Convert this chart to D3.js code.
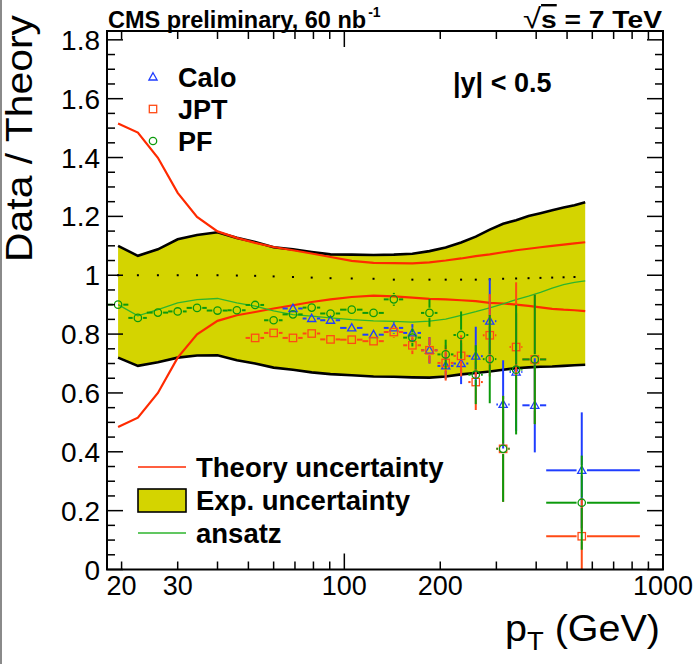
<!DOCTYPE html>
<html lang="en">
<head>
<meta charset="utf-8">
<title>Data / Theory vs pT</title>
<script src="https://d3js.org/d3.v7.min.js"></script>
<style>
  body { margin: 0; background: #fff; }
  text { font-family: "Liberation Sans", Arial, Helvetica, sans-serif; }
</style>
</head>
<body>
<script>
// ---- theory / uncertainty grid (bin centres, GeV) ----
const binCenters = [19.5, 22.5, 26, 30, 34.5, 40, 46, 52.5, 60, 69, 79, 90.5, 105.5, 123.5, 143, 163.5, 185, 208, 232.5, 258.5, 286, 315, 346, 378.5, 412.5, 449, 487.5, 527.5, 570];
const expUp = [1.100, 1.066, 1.088, 1.122, 1.137, 1.146, 1.127, 1.113, 1.095, 1.088, 1.079, 1.071, 1.070, 1.069, 1.070, 1.073, 1.082, 1.094, 1.111, 1.131, 1.155, 1.175, 1.187, 1.201, 1.211, 1.221, 1.230, 1.238, 1.248];
const expLo = [0.720, 0.692, 0.704, 0.720, 0.727, 0.728, 0.711, 0.700, 0.686, 0.679, 0.670, 0.664, 0.660, 0.656, 0.655, 0.653, 0.652, 0.656, 0.663, 0.668, 0.673, 0.679, 0.684, 0.687, 0.689, 0.690, 0.692, 0.694, 0.696];
const theoryUp = [1.516, 1.485, 1.399, 1.280, 1.198, 1.149, 1.127, 1.110, 1.096, 1.085, 1.074, 1.062, 1.049, 1.042, 1.041, 1.040, 1.044, 1.050, 1.057, 1.065, 1.071, 1.078, 1.085, 1.090, 1.095, 1.100, 1.104, 1.108, 1.112];
const theoryLo = [0.484, 0.516, 0.600, 0.720, 0.799, 0.845, 0.864, 0.875, 0.887, 0.898, 0.909, 0.918, 0.926, 0.931, 0.928, 0.924, 0.920, 0.918, 0.915, 0.912, 0.906, 0.904, 0.900, 0.896, 0.891, 0.886, 0.883, 0.881, 0.878];
const ansatz = [0.900, 0.862, 0.883, 0.906, 0.917, 0.921, 0.906, 0.895, 0.879, 0.866, 0.861, 0.855, 0.849, 0.845, 0.843, 0.841, 0.844, 0.851, 0.864, 0.876, 0.889, 0.903, 0.917, 0.929, 0.942, 0.956, 0.968, 0.976, 0.981];
const refDots = [1, 1, 1, 1, 1, 1, 0.999, 0.998, 0.996, 0.994, 0.992, 0.990, 0.989, 0.988, 0.985, 0.985, 0.985, 0.985, 0.985, 0.985, 0.986, 0.988, 0.989, 0.990, 0.991, 0.992, 0.993, 0.994];

// ---- measured bins ----
const ptLow  = [18, 21, 24, 28, 32, 37, 43, 49, 56, 64, 74, 84, 97, 114, 133, 153, 174, 196, 220, 245, 272, 300, 330, 362, 430];
const ptHigh = [21, 24, 28, 32, 37, 43, 49, 56, 64, 74, 84, 97, 114, 133, 153, 174, 196, 220, 245, 272, 300, 330, 362, 430, 846];
const ptMean = [19.5, 22.5, 26, 30, 34.5, 40, 46, 52.5, 60, 69, 79, 90.5, 105.5, 123.5, 143, 163.5, 185, 208, 232.5, 258.5, 286, 315, 346, 396, 556];

// PF: all bins; JPT from bin 7; Calo from bin 9
const pfVal  = [0.900, 0.855, 0.873, 0.877, 0.889, 0.880, 0.881, 0.899, 0.847, 0.867, 0.890, 0.870, 0.883, 0.872, 0.918, 0.788, 0.872, 0.731, 0.797, 0.662, 0.715, 0.410, 0.679, 0.714, 0.227];
const pfErr  = [0.008, 0.008, 0.008, 0.008, 0.014, 0.008, 0.008, 0.014, 0.010, 0.010, 0.012, 0.012, 0.012, 0.012, 0.022, 0.030, 0.047, 0.050, 0.080, 0.100, 0.150, 0.180, 0.220, 0.220, 0.160];
const jptVal = [0.787, 0.804, 0.787, 0.802, 0.782, 0.781, 0.776, 0.807, 0.762, 0.745, 0.702, 0.726, 0.637, 0.796, 0.410, 0.756, 0.714, 0.113];
const jptErr = [0.010, 0.010, 0.010, 0.010, 0.012, 0.012, 0.015, 0.020, 0.030, 0.044, 0.060, 0.070, 0.095, 0.140, 0.180, 0.220, 0.220, 0.130];
const caloVal = [0.887, 0.853, 0.847, 0.821, 0.798, 0.821, 0.804, 0.745, 0.692, 0.700, 0.725, 0.844, 0.561, 0.671, 0.558, 0.337];
const caloErr = [0.010, 0.010, 0.012, 0.012, 0.015, 0.020, 0.030, 0.045, 0.045, 0.070, 0.100, 0.145, 0.150, 0.200, 0.160, 0.197];

const yMajor = [0, 0.2, 0.4, 0.6, 0.8, 1, 1.2, 1.4, 1.6, 1.8];
const xMajor = [100, 1000];
const xMinor = [20, 30, 40, 50, 60, 70, 80, 90, 200, 300, 400, 500, 600, 700, 800, 900];
const xLabels = [20, 30, 100, 200, 1000];

const colCalo = "#1f3dff", colJpt = "#ff4a14", colPf = "#0c9a0c";
const colTheory = "#ff2a00", colAnsatz = "#2db52d", colBand = "#d4d400";

const width = 699, height = 664;
const L = 107, R = 663, T = 31, B = 569.5;

const svg = d3.select("body").append("svg")
  .attr("width", width).attr("height", height);

const x = d3.scaleLog().domain([18, 1000]).range([L, R]);
const y = d3.scaleLinear().domain([0, 1.83]).range([B, T]);

svg.append("rect").attr("x", 0).attr("y", 0).attr("width", 2).attr("height", height).attr("fill", "#8a8a8a");

svg.append("clipPath").attr("id", "frame")
  .append("rect").attr("x", L).attr("y", T).attr("width", R - L).attr("height", B - T);

const plot = svg.append("g").attr("clip-path", "url(#frame)");
const idx = d3.range(binCenters.length);

// exp. uncertainty band
plot.append("path")
  .attr("fill", colBand)
  .attr("d", d3.area().x(i => x(binCenters[i])).y0(i => y(expLo[i])).y1(i => y(expUp[i]))(idx));
[expUp, expLo].forEach(arr => {
  plot.append("path").attr("fill", "none").attr("stroke", "#000").attr("stroke-width", 2.6)
    .attr("d", d3.line().x(i => x(binCenters[i])).y(i => y(arr[i]))(idx));
});

// dotted reference
plot.append("g").selectAll("rect").data(refDots).join("rect")
  .attr("x", (d, i) => x(binCenters[i]) - 1).attr("y", d => y(d) - 1)
  .attr("width", 2).attr("height", 2).attr("fill", "#000");

// theory lines
[theoryUp, theoryLo].forEach(arr => {
  plot.append("path").attr("fill", "none").attr("stroke", colTheory).attr("stroke-width", 2.2)
    .attr("d", d3.line().x(i => x(binCenters[i])).y(i => y(arr[i]))(idx));
});

// ansatz
plot.append("path").attr("fill", "none").attr("stroke", colAnsatz).attr("stroke-width", 1.3)
  .attr("d", d3.line().x(i => x(binCenters[i])).y(i => y(ansatz[i]))(idx));

const R_M = 3.7;
function drawMarker(g, type, cx, cy, color) {
  if (type === "circle") {
    g.append("circle").attr("cx", cx).attr("cy", cy).attr("r", R_M)
      .attr("fill", "none").attr("stroke", color).attr("stroke-width", 1.3);
  } else if (type === "square") {
    g.append("rect").attr("x", cx - R_M).attr("y", cy - R_M).attr("width", 2 * R_M).attr("height", 2 * R_M)
      .attr("fill", "none").attr("stroke", color).attr("stroke-width", 1.3);
  } else {
    g.append("path").attr("d", `M${cx},${cy - 4.3}L${cx + 4.1},${cy + 3}L${cx - 4.1},${cy + 3}Z`)
      .attr("fill", "none").attr("stroke", color).attr("stroke-width", 1.3);
  }
}

function drawSeries(vals, errs, start, type, color) {
  const g = plot.append("g").attr("stroke", color).attr("stroke-width", 2);
  vals.forEach((v, k) => {
    const i = start + k;
    const cx = x(ptMean[i]), cy = y(v);
    const gap = R_M + 1.5;
    const x0 = x(ptLow[i]), x1 = x(ptHigh[i]);
    if (cx - gap > x0) g.append("line").attr("x1", x0).attr("x2", cx - gap).attr("y1", cy).attr("y2", cy);
    if (x1 > cx + gap) g.append("line").attr("x1", cx + gap).attr("x2", x1).attr("y1", cy).attr("y2", cy);
    const yt = y(v + errs[k]), yb = y(v - errs[k]);
    if (cy - gap > yt) g.append("line").attr("x1", cx).attr("x2", cx).attr("y1", yt).attr("y2", cy - gap);
    if (yb > cy + gap) g.append("line").attr("x1", cx).attr("x2", cx).attr("y1", cy + gap).attr("y2", yb);
    drawMarker(g, type, cx, cy, color);
  });
}
drawSeries(caloVal, caloErr, 9, "triangle", colCalo);
drawSeries(jptVal, jptErr, 7, "square", colJpt);
drawSeries(pfVal, pfErr, 0, "circle", colPf);

// frame and ticks
const axes = svg.append("g").attr("stroke", "#000");
axes.append("rect").attr("x", L).attr("y", T).attr("width", R - L).attr("height", B - T)
  .attr("fill", "none").attr("stroke-width", 2);

const yMinor = d3.range(0, 1.83, 0.05).filter(v => Math.abs(v * 5 - Math.round(v * 5)) > 1e-6);
yMajor.forEach(v => {
  axes.append("line").attr("x1", L).attr("x2", L + 16).attr("y1", y(v)).attr("y2", y(v)).attr("stroke-width", 1.5);
  axes.append("line").attr("x1", R).attr("x2", R - 16).attr("y1", y(v)).attr("y2", y(v)).attr("stroke-width", 1.5);
});
yMinor.forEach(v => {
  axes.append("line").attr("x1", L).attr("x2", L + 8).attr("y1", y(v)).attr("y2", y(v)).attr("stroke-width", 1.5);
  axes.append("line").attr("x1", R).attr("x2", R - 8).attr("y1", y(v)).attr("y2", y(v)).attr("stroke-width", 1.5);
});
xMajor.forEach(v => {
  axes.append("line").attr("x1", x(v)).attr("x2", x(v)).attr("y1", B).attr("y2", B - 16).attr("stroke-width", 1.5);
  axes.append("line").attr("x1", x(v)).attr("x2", x(v)).attr("y1", T).attr("y2", T + 16).attr("stroke-width", 1.5);
});
xMinor.forEach(v => {
  axes.append("line").attr("x1", x(v)).attr("x2", x(v)).attr("y1", B).attr("y2", B - 8).attr("stroke-width", 1.5);
  axes.append("line").attr("x1", x(v)).attr("x2", x(v)).attr("y1", T).attr("y2", T + 8).attr("stroke-width", 1.5);
});

// tick labels
svg.append("g").attr("font-size", 28).attr("text-anchor", "end")
  .selectAll("text").data(yMajor).join("text")
  .attr("x", 100).attr("y", d => y(d)).attr("dy", "0.36em")
  .text(d => String(+d.toFixed(1)));
svg.append("g").attr("font-size", 27).attr("text-anchor", "middle")
  .selectAll("text").data(xLabels).join("text")
  .attr("x", d => x(d)).attr("y", 595)
  .text(d => d);

// axis titles
svg.append("text").attr("transform", "translate(32,15) rotate(-90)")
  .attr("text-anchor", "end").attr("font-size", 36)
  .attr("textLength", 247).attr("lengthAdjust", "spacingAndGlyphs").text("Data / Theory");
const xt = svg.append("text").attr("x", 660).attr("y", 641).attr("text-anchor", "end").attr("font-size", 36)
  .attr("textLength", 155).attr("lengthAdjust", "spacingAndGlyphs");
xt.append("tspan").text("p");
xt.append("tspan").attr("font-size", 25).attr("dy", 9).text("T");
xt.append("tspan").attr("dy", -9).text(" (GeV)");

// header
const h1 = svg.append("text").attr("x", 108).attr("y", 28).attr("font-size", 23.5).attr("font-weight", "bold")
  .text("CMS preliminary, 60 nb");
const h1w = h1.node().getComputedTextLength();
svg.append("text").attr("x", 108 + h1w + 2).attr("y", 17).attr("font-size", 14).attr("font-weight", "bold").text("-1");
const h2 = svg.append("text").attr("x", 662).attr("y", 28).attr("font-size", 24).attr("font-weight", "bold")
  .attr("text-anchor", "end").attr("textLength", 139).attr("lengthAdjust", "spacingAndGlyphs");
h2.append("tspan").attr("font-weight", "normal").attr("font-size", 28).text("√");
h2.append("tspan").attr("text-decoration", "overline").text("s");
h2.append("tspan").text(" = 7 TeV");

svg.append("text").attr("x", 453).attr("y", 92).attr("font-size", 27).attr("font-weight", "bold").text("|y| < 0.5");

// legend (markers)
const legTop = [["triangle", colCalo, "Calo", 77], ["square", colJpt, "JPT", 109], ["circle", colPf, "PF", 141]];
const lg = svg.append("g");
legTop.forEach(([t, c, name, yy]) => {
  drawMarker(lg, t, 153, yy, c);
  lg.append("text").attr("x", 178).attr("y", yy + 10).attr("font-size", 27).attr("font-weight", "bold").text(name);
});

// legend (lines / band)
const lb = svg.append("g");
lb.append("line").attr("x1", 138).attr("x2", 186).attr("y1", 467).attr("y2", 467).attr("stroke", colTheory).attr("stroke-width", 1.6);
lb.append("rect").attr("x", 138).attr("y", 489).attr("width", 48).attr("height", 23).attr("fill", colBand).attr("stroke", "#000").attr("stroke-width", 1.6);
lb.append("line").attr("x1", 138).attr("x2", 186).attr("y1", 533).attr("y2", 533).attr("stroke", colAnsatz).attr("stroke-width", 1.6);
[["Theory uncertainty", 467], ["Exp. uncertainty", 500], ["ansatz", 533]].forEach(([s, yy]) => {
  lb.append("text").attr("x", 196).attr("y", yy + 10).attr("font-size", 27.5).attr("font-weight", "bold").text(s);
});
</script>
</body>
</html>
